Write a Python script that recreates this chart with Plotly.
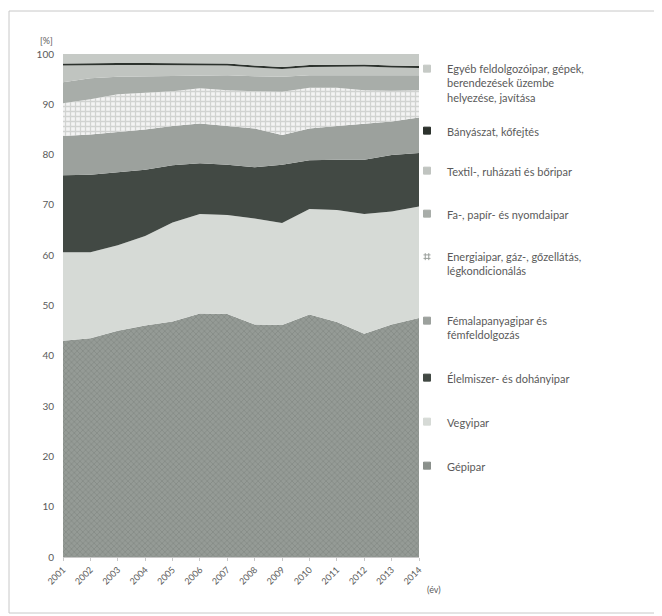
import plotly.graph_objects as go

years = [2001, 2002, 2003, 2004, 2005, 2006, 2007, 2008, 2009, 2010, 2011, 2012, 2013, 2014]
year_labels = [str(y) for y in years]

gepipar = [43.0, 43.5, 45.0, 46.0, 46.8, 48.4, 48.3, 46.2, 46.1, 48.2, 46.7, 44.4, 46.2, 47.5]
vegyipar = [17.6, 17.1, 17.0, 17.8, 19.7, 19.8, 19.7, 21.1, 20.3, 21.0, 22.3, 23.8, 22.5, 22.2]
elelmiszer = [15.3, 15.4, 14.5, 13.2, 11.4, 10.1, 10.0, 10.2, 11.6, 9.7, 10.0, 10.8, 11.2, 10.6]
femalap = [7.8, 8.0, 8.0, 8.0, 7.8, 7.9, 7.7, 7.7, 5.9, 6.3, 6.7, 7.1, 6.7, 7.1]
energia = [6.5, 7.0, 7.5, 7.3, 6.9, 7.0, 7.1, 7.4, 8.6, 8.1, 7.6, 6.7, 6.1, 5.4]
fapapir = [4.2, 4.2, 3.5, 3.3, 3.1, 2.6, 3.0, 3.0, 3.0, 2.5, 2.5, 3.0, 3.0, 3.0]
textil = [3.3, 2.6, 2.3, 2.2, 2.1, 2.0, 1.9, 1.7, 1.5, 1.6, 1.7, 1.7, 1.6, 1.4]
banyaszat = [0.4, 0.4, 0.4, 0.4, 0.4, 0.4, 0.4, 0.4, 0.4, 0.4, 0.4, 0.4, 0.4, 0.4]
egyeb = [1.9, 1.8, 1.8, 1.8, 1.8, 1.8, 1.9, 2.3, 2.6, 2.2, 2.1, 2.1, 2.3, 2.4]

names = [
    "Gépipar",
    "Vegyipar",
    "Élelmiszer- és dohányipar",
    "Fémalapanyagipar és<br>fémfeldolgozás",
    "Energiaipar, gáz-, gőzellátás,<br>légkondicionálás",
    "Fa-, papír- és nyomdaipar",
    "Textil-, ruházati és bőripar",
    "Bányászat, kőfejtés",
    "Egyéb feldolgozóipar, gépek,<br>berendezések üzembe<br>helyezése, javítása",
]
series = [gepipar, vegyipar, elelmiszer, femalap, energia, fapapir, textil, banyaszat, egyeb]

colors = ["#8b918c", "#d6dad6", "#424944", "#9ca19d", "#eeeeee", "#a8ada9", "#c0c4c0", "#2c322d", "#c6cac6"]
patterns = [
    dict(shape="x", fgcolor="#737975", bgcolor="#959b96", size=4, solidity=0.35),
    None, None, None,
    dict(shape="+", fgcolor="#adb2ae", bgcolor="#f4f4f4", size=5, solidity=0.45),
    None, None, None, None,
]
legend_symbols = ["square-x", "square", "square", "square", "hash-open", "square", "square", "square", "square"]
# first-line pixel y (page) of each legend entry (layout)
legend_py = [465, 421, 377, 320, 256, 213, 170, 130, 68]

# page offset caused by the default 8px body margin of the html page
OFF = 8
W, H = 662 - OFF, 616 - OFF
# plot area in page pixels: x 63..419, y 54..557
ml, mt = 63 - OFF, 54 - OFF
mr = W - (419 - OFF)
mb = H - (557 - OFF)
pw, ph = W - ml - mr, H - mt - mb


def xp(px):
    return (px - OFF - ml) / pw


def yp(py):
    return (H - mb - (py - OFF)) / ph


fig = go.Figure()
for i, (nm, vals) in enumerate(zip(names, series)):
    kw = dict(
        x=years, y=vals, name=nm, mode="lines", stackgroup="one",
        line=dict(width=0, color=colors[i]), fillcolor=colors[i],
        showlegend=False, hoverinfo="x+y+name",
    )
    if patterns[i] is not None:
        kw["fillpattern"] = patterns[i]
    fig.add_trace(go.Scatter(**kw))

legend_layouts = {}
for i, nm in enumerate(names):
    key = "legend" if i == 0 else f"legend{i + 1}"
    sym = legend_symbols[i]
    mcol = colors[i] if sym != "hash-open" else "#9a9f9b"
    fig.add_trace(go.Scatter(
        x=[None], y=[None], mode="markers", name=nm, legend=key, showlegend=True,
        marker=dict(symbol=sym, size=7, color=mcol,
                    line=dict(width=1, color="#8a8f8b" if sym != "square" else mcol)),
    ))
    legend_layouts[key] = dict(
        x=xp(407), xanchor="left", y=yp(legend_py[i] - 13), yanchor="top",
        bgcolor="rgba(0,0,0,0)", valign="top",
        font=dict(size=11, color="#5a5a5a", family="Lato, 'Open Sans', sans-serif"),
        itemclick=False, itemdoubleclick=False,
    )

fig.update_layout(
    width=W, height=H,
    margin=dict(l=ml, r=mr, t=mt, b=mb),
    paper_bgcolor="white", plot_bgcolor="white",
    font=dict(family="Lato, 'Open Sans', sans-serif", color="#5a5a5a", size=10),
    xaxis=dict(
        range=[years[0], years[-1]], tickvals=years, ticktext=year_labels,
        tickangle=-45, showgrid=False, zeroline=False,
        showline=True, linecolor="#c8c8c8", ticks="outside", ticklen=3, tickcolor="#c8c8c8",
        tickfont=dict(size=9, color="#5a5a5a"),
    ),
    yaxis=dict(
        range=[0, 100], dtick=10, showgrid=False, zeroline=False, showline=False,
        ticks="", tickfont=dict(size=10, color="#5a5a5a"), ticklabelstandoff=8,
    ),
    annotations=[
        dict(text="[%]", x=xp(38), y=yp(33), xref="paper", yref="paper",
             showarrow=False, font=dict(size=9, color="#5a5a5a")),
        dict(text="(év)", x=xp(443), y=yp(597), xref="paper", yref="paper",
             showarrow=False, font=dict(size=9, color="#5a5a5a")),
    ],
    shapes=[
        dict(type="rect", xref="paper", yref="paper",
             x0=xp(9), x1=xp(659), y0=yp(613), y1=yp(11),
             line=dict(color="#c8c8c8", width=1), fillcolor="rgba(0,0,0,0)", layer="below"),
    ],
    **legend_layouts,
)

fig.write_html("out.html")
